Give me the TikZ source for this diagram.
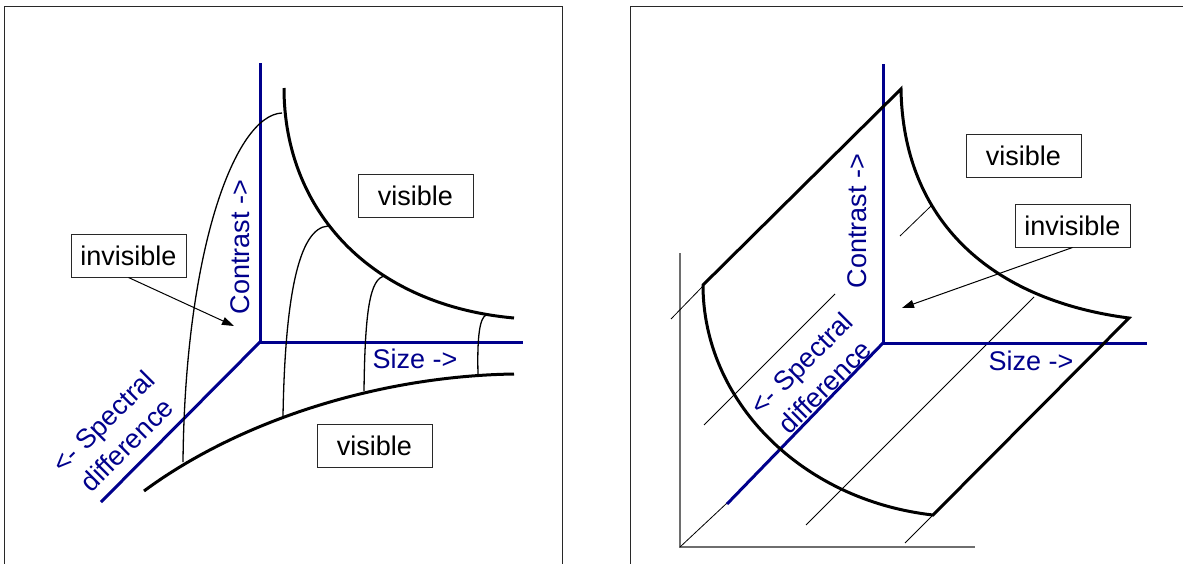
\documentclass[tikz,border=0pt]{standalone}
\usepackage{fontspec}
\setmainfont{Liberation Sans}
\usetikzlibrary{arrows.meta}
\definecolor{axisblue}{RGB}{0,0,140}
\definecolor{framegray}{RGB}{40,40,40}
\definecolor{refgray}{RGB}{110,110,110}
\begin{document}
\begin{tikzpicture}[x=1pt,y=-1pt,
  axisline/.style={draw=axisblue,line width=3pt},
  boundary/.style={draw=black,line width=3pt,line join=miter},
  thinlink/.style={draw=black,line width=1.3pt},
  hatch/.style={draw=black,line width=0.8pt},
  refaxis/.style={draw=refgray,line width=1.5pt},
  panel/.style={draw=framegray,line width=1pt},
  labelbox/.style={draw=framegray,line width=1pt,fill=white,minimum width=115pt,minimum height=43pt,inner sep=0pt,font=\fontsize{27pt}{32pt}\selectfont},
  axislabel/.style={text=axisblue,inner sep=0pt,font=\fontsize{27pt}{32pt}\selectfont},
  pointer/.style={draw=black,line width=1pt,-{Triangle[length=12pt,width=8pt]}}]
\clip (0,0) rectangle (1183,563);
\useasboundingbox (0,0) rectangle (1183,563);
% panels
\draw[panel] (4.7,650) -- (4.7,6.7) -- (562.3,6.7) -- (562.3,650);
\draw[panel] (630.7,650) -- (630.7,6.7) -- (1250,6.7);

% ===== Left panel =====
\coordinate (LO) at (260,342);
\coordinate (LC) at (260,63);
\coordinate (LS) at (523,342);
\coordinate (LD) at (101,502);
\draw[axisline] (LC) -- (LO) -- (LS);
\draw[axisline] (LO) -- (LD);

% thin connectors
\draw[thinlink] (183,462) .. controls (185,250) and (235,115) .. (282,113);
\draw[thinlink] (283,416) .. controls (285,300) and (298,228) .. (328,226);
\draw[thinlink] (364,391) .. controls (365,310) and (370,278) .. (385,276);
\draw[thinlink] (478,374) .. controls (477,335) and (480,318) .. (486,315);

% thick boundaries
\draw[boundary] (284,88) .. controls (284,210) and (370,305) .. (514,318);
\draw[boundary] (144,491) .. controls (240,420) and (380,376) .. (514,374);

% labels
\node[labelbox] (vis1) at (415.5,195.5) {visible};
\node[labelbox] (vis2) at (374.5,446) {visible};
\node[labelbox] (inv1) at (128.5,255.5) {invisible};
\coordinate (inv1tip) at (234,326);
\draw[pointer] (inv1.south) -- (inv1tip);
\node[axislabel,rotate=90] (con1) at (240,247) {Contrast ->};
\node[axislabel] (siz1) at (415,359) {Size ->};
\node[axislabel,rotate=45,align=center,font=\fontsize{27pt}{33pt}\selectfont] (spe1) at (115,433) {<- Spectral\\difference};

% ===== Right panel =====
\draw[refaxis] (680,253) -- (680,547) -- (975,547);
% hatching
\draw[hatch] (671,319) -- (703,286);
\draw[hatch] (704,425) -- (835,294);
\draw[hatch] (680,547) -- (727,503);
\draw[hatch] (806,525) -- (1034,297);
\draw[hatch] (900,236) -- (931,206);
\draw[hatch] (905,543) -- (933,515);

\coordinate (RO) at (883,343);
\coordinate (RC) at (883,64);
\coordinate (RS) at (1147,343);
\coordinate (RD) at (727,504);
\draw[axisline] (RC) -- (RO) -- (RS);
\draw[axisline] (RO) -- (RD);

% surface outline
\coordinate (SL) at (703,285);
\coordinate (ST) at (901,89);
\coordinate (SR) at (1129,318);
\coordinate (SB) at (933,515);
\draw[boundary] (SL) -- (ST) .. controls (903,220) and (990,300) .. (SR) -- (SB) .. controls (800,500) and (703,400) .. (SL) -- cycle;

\node[labelbox] (vis3) at (1023.5,155.5) {visible};
\node[labelbox] (inv2) at (1072.5,225.5) {invisible};
\coordinate (inv2tip) at (902,308);
\draw[pointer] (inv2.south) -- (inv2tip);
\node[axislabel,rotate=90] (con2) at (857,221) {Contrast ->};
\node[axislabel] (siz2) at (1031,361) {Size ->};
\node[axislabel,rotate=45,align=center,font=\fontsize{27pt}{33pt}\selectfont] (spe2) at (813,375) {<- Spectral\\difference};
\end{tikzpicture}
\end{document}
